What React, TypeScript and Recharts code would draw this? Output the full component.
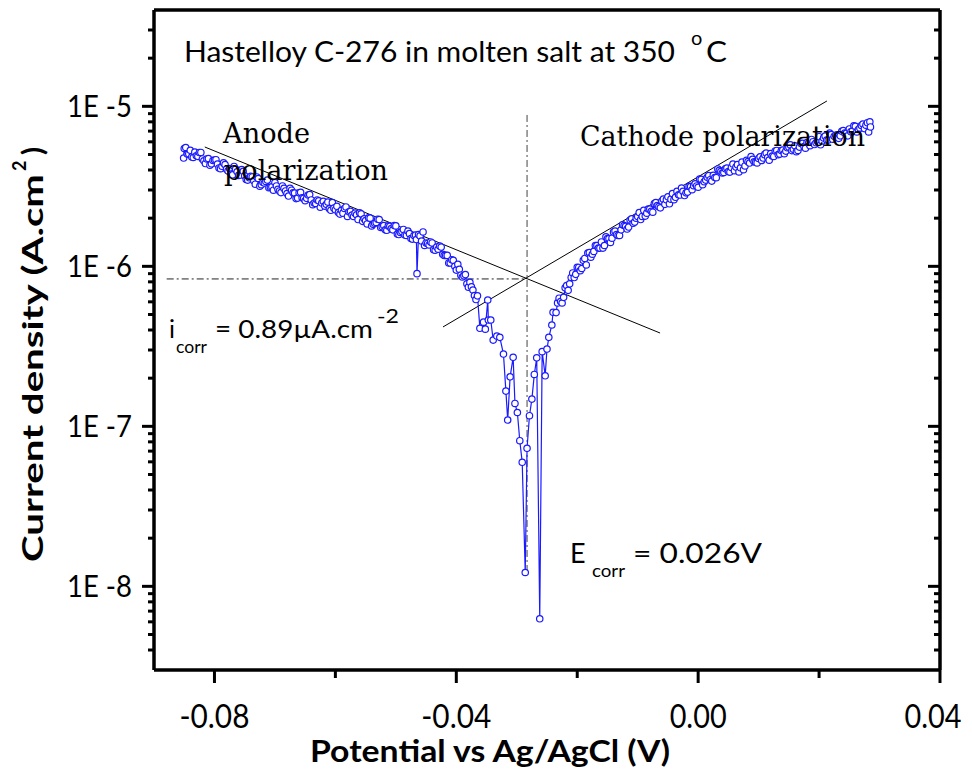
import React from "react"
import { ComposedChart, Line, XAxis, YAxis, ReferenceLine } from "recharts"

// potential vs Ag/AgCl (V) - main readings
const potential = [
  -0.0851, -0.085, -0.0845, -0.084, -0.0835, -0.083, -0.0825, -0.082, -0.0815, -0.081,
  -0.0805, -0.08, -0.0795, -0.079, -0.0785, -0.078, -0.0775, -0.077, -0.0765, -0.076,
  -0.0755, -0.075, -0.0745, -0.074, -0.0735, -0.073, -0.0725, -0.072, -0.0715, -0.071,
  -0.0705, -0.07, -0.0695, -0.069, -0.0685, -0.068, -0.0675, -0.067, -0.0665, -0.066,
  -0.0655, -0.065, -0.0645, -0.064, -0.0635, -0.063, -0.0625, -0.062, -0.0615, -0.061,
  -0.0605, -0.06, -0.0595, -0.059, -0.0585, -0.058, -0.0575, -0.057, -0.0565, -0.056,
  -0.0555, -0.055, -0.0545, -0.054, -0.0535, -0.053, -0.0525, -0.052, -0.0515, -0.051,
  -0.0505, -0.05, -0.0495, -0.049, -0.0485, -0.048, -0.0475, -0.047, -0.0466, -0.0465,
  -0.046, -0.0455, -0.045, -0.0445, -0.044, -0.0435, -0.043, -0.0425, -0.042, -0.0415,
  -0.041, -0.0405, -0.04, -0.0395, -0.039, -0.0385, -0.038, -0.0375, -0.037, -0.0365,
  // around Ecorr
  -0.0361, -0.0355, -0.0352, -0.0348, -0.0347, -0.0343, -0.0339, -0.0333, -0.0328, -0.0322,
  -0.0318, -0.0315, -0.0311, -0.0306, -0.0303, -0.0299, -0.0295, -0.0291, -0.0286, -0.0283,
  -0.0279, -0.0275, -0.0271, -0.0267, -0.0262, -0.0258, -0.0253, -0.025, -0.0247, -0.0242,
  -0.024,
  // cathodic side
  -0.0235, -0.023, -0.0225, -0.022, -0.0215, -0.021, -0.0205, -0.02, -0.0195, -0.019,
  -0.0185, -0.018, -0.0175, -0.017, -0.0165, -0.016, -0.0155, -0.015, -0.0145, -0.014,
  -0.0135, -0.013, -0.0125, -0.012, -0.0115, -0.011, -0.0105, -0.01, -0.0095, -0.009,
  -0.0085, -0.008, -0.0075, -0.007, -0.0065, -0.006, -0.0055, -0.005, -0.0045, -0.004,
  -0.0035, -0.003, -0.0025, -0.002, -0.0015, -0.001, -0.0005, 0, 0.0005, 0.001,
  0.0015, 0.002, 0.0025, 0.003, 0.0035, 0.004, 0.0045, 0.005, 0.0055, 0.006,
  0.0065, 0.007, 0.0075, 0.008, 0.0085, 0.009, 0.0095, 0.01, 0.0105, 0.011,
  0.0115, 0.012, 0.0125, 0.013, 0.0135, 0.014, 0.0145, 0.015, 0.0155, 0.016,
  0.0165, 0.017, 0.0175, 0.018, 0.0185, 0.019, 0.0195, 0.02, 0.0205, 0.021,
  0.0215, 0.022, 0.0225, 0.023, 0.0235, 0.024, 0.0245, 0.025, 0.0255, 0.026,
  0.0265, 0.027, 0.0275, 0.028, 0.0282, 0.0284, 0.0285,
]

// current density, µA/cm²
const current = [
  4.75, 5.45, 5.03, 5.31, 4.79, 4.91, 5.15, 4.69, 4.39, 4.72,
  4.37, 4.62, 4.35, 4.08, 4.43, 4.05, 4.09, 3.73, 4.05, 3.7,
  4.02, 3.68, 3.46, 3.65, 3.43, 3.62, 3.17, 3.35, 3.39, 3.1,
  3.14, 3.34, 3.03, 2.89, 3.07, 2.85, 3.07, 2.88, 2.65, 2.88,
  2.68, 2.57, 2.79, 2.6, 2.49, 2.6, 2.34, 2.55, 2.44, 2.29,
  2.5, 2.26, 2.17, 2.24, 2.3, 2.05, 2.21, 2.05, 2.1, 2.16,
  1.91, 1.93, 2.01, 1.79, 1.86, 1.97, 1.75, 1.8, 1.68, 1.78,
  1.69, 1.79, 1.58, 1.65, 1.57, 1.66, 1.49, 1.56, 1.47, 0.9,
  1.55, 1.64, 1.4, 1.36, 1.4, 1.26, 1.28, 1.32, 1.17, 1.17,
  1.05, 1.09, 0.947, 0.959, 0.858, 0.888, 0.741, 0.745, 0.657, 0.654,
  0.41, 0.448, 0.405, 0.616, 0.462, 0.462, 0.346, 0.367, 0.36, 0.283,
  0.166, 0.1095, 0.204, 0.27, 0.139, 0.122, 0.0813, 0.0596, 0.0122, 0.0729,
  0.1165, 0.148, 0.211, 0.268, 0.00627, 0.293, 0.207, 0.304, 0.36, 0.43,
  0.516,
  0.514, 0.632, 0.59, 0.735, 0.708, 0.852, 0.851, 0.987, 0.94, 1.09,
  1.02, 1.22, 1.19, 1.35, 1.3, 1.42, 1.35, 1.49, 1.41, 1.64,
  1.58, 1.56, 1.82, 1.78, 1.76, 1.98, 1.89, 2.05, 1.96, 2.24,
  2.15, 2.28, 2.18, 2.5, 2.36, 2.56, 2.44, 2.72, 2.63, 2.61,
  2.94, 2.79, 2.94, 2.88, 3.16, 3.01, 3.28, 3.12, 3.5, 3.38,
  3.6, 3.48, 3.71, 3.58, 3.98, 3.83, 4.07, 3.91, 4.15, 3.96,
  4.32, 4.13, 4.02, 4.6, 4.42, 4.66, 4.47, 4.72, 4.59, 4.99,
  4.78, 5.06, 4.86, 5.3, 5.03, 5.33, 5.25, 5.56, 5.29, 5.67,
  5.3, 5.86, 5.61, 5.94, 5.68, 6.01, 5.92, 6.46, 6.07, 6.52,
  6.15, 6.66, 6.5, 6.65, 6.54, 7.06, 6.79, 7.22, 7.0, 7.5,
  7.17, 7.59, 7.26, 7.9, 6.91, 8.01, 7.43,
]

// intermediate readings between the main ones (V)
const potential2 = [
  -0.08475, -0.08425, -0.08375, -0.08325, -0.08275, -0.08225, -0.08175, -0.08125, -0.08075, -0.08025,
  -0.07975, -0.07925, -0.07875, -0.07825, -0.07775, -0.07725, -0.07675, -0.07625, -0.07575, -0.07525,
  -0.07475, -0.07425, -0.07375, -0.07325, -0.07275, -0.07225, -0.07175, -0.07125, -0.07075, -0.07025,
  -0.06975, -0.06925, -0.06875, -0.06825, -0.06775, -0.06725, -0.06675, -0.06625, -0.06575, -0.06525,
  -0.06475, -0.06425, -0.06375, -0.06325, -0.06275, -0.06225, -0.06175, -0.06125, -0.06075, -0.06025,
  -0.05975, -0.05925, -0.05875, -0.05825, -0.05775, -0.05725, -0.05675, -0.05625, -0.05575, -0.05525,
  -0.05475, -0.05425, -0.05375, -0.05325, -0.05275, -0.05225, -0.05175, -0.05125, -0.05075, -0.05025,
  -0.04975, -0.04925, -0.04875, -0.04825, -0.04775, -0.04725, -0.04675, -0.04625, -0.04575, -0.04525,
  -0.04475, -0.04425, -0.04375, -0.04325, -0.04275, -0.04225, -0.04175, -0.04125, -0.04075, -0.04025,
  -0.03975, -0.03925, -0.03875, -0.03825, -0.03775, -0.03725, -0.03675,
  -0.02325, -0.02275, -0.02225, -0.02175, -0.02125, -0.02075, -0.02025, -0.01975, -0.01925, -0.01875,
  -0.01825, -0.01775, -0.01725, -0.01675, -0.01625, -0.01575, -0.01525, -0.01475, -0.01425, -0.01375,
  -0.01325, -0.01275, -0.01225, -0.01175, -0.01125, -0.01075, -0.01025, -0.00975, -0.00925, -0.00875,
  -0.00825, -0.00775, -0.00725, -0.00675, -0.00625, -0.00575, -0.00525, -0.00475, -0.00425, -0.00375,
  -0.00325, -0.00275, -0.00225, -0.00175, -0.00125, -0.00075, -0.00025, 0.00025, 0.00075, 0.00125,
  0.00175, 0.00225, 0.00275, 0.00325, 0.00375, 0.00425, 0.00475, 0.00525, 0.00575, 0.00625,
  0.00675, 0.00725, 0.00775, 0.00825, 0.00875, 0.00925, 0.00975, 0.01025, 0.01075, 0.01125,
  0.01175, 0.01225, 0.01275, 0.01325, 0.01375, 0.01425, 0.01475, 0.01525, 0.01575, 0.01625,
  0.01675, 0.01725, 0.01775, 0.01825, 0.01875, 0.01925, 0.01975, 0.02025, 0.02075, 0.02125,
  0.02175, 0.02225, 0.02275, 0.02325, 0.02375, 0.02425, 0.02475, 0.02525, 0.02575, 0.02625,
  0.02675, 0.02725, 0.02775,
]

// µA/cm²
const current2 = [
  5.53, 5.05, 4.83, 5.17, 4.87, 5.15, 4.57, 4.69, 4.29, 4.59,
  4.64, 4.12, 4.22, 4.32, 3.95, 3.77, 4.21, 3.9, 3.72, 3.93,
  3.49, 3.58, 3.62, 3.26, 3.54, 3.24, 3.32, 3.46, 3.12, 2.99,
  3.18, 2.96, 3.18, 2.96, 2.75, 2.99, 2.87, 2.67, 2.9, 2.66,
  2.66, 2.81, 2.43, 2.47, 2.57, 2.49, 2.38, 2.52, 2.24, 2.31,
  2.37, 2.12, 2.15, 2.35, 2.19, 2.09, 2.15, 1.96, 2.13, 1.98,
  1.84, 2.0, 1.83, 1.88, 1.96, 1.77, 1.69, 1.79, 1.72, 1.8,
  1.59, 1.63, 1.7, 1.56, 1.6, 1.48, 1.57, 1.58, 1.44, 1.35,
  1.39, 1.42, 1.27, 1.32, 1.34, 1.19, 1.17, 1.05, 1.1, 1.0,
  1.03, 0.88, 0.872, 0.777, 0.794, 0.711, 0.62,
  0.591, 0.602, 0.64, 0.759, 0.777, 0.909, 0.891, 0.984, 0.969, 1.12,
  1.21, 1.14, 1.24, 1.35, 1.3, 1.3, 1.53, 1.49, 1.5, 1.66,
  1.56, 1.69, 1.8, 1.71, 1.95, 1.86, 2.0, 2.17, 2.05, 2.06,
  2.28, 2.21, 2.47, 2.4, 2.32, 2.63, 2.61, 2.46, 2.85, 2.7,
  2.8, 3.08, 2.77, 2.91, 3.15, 3.19, 3.18, 3.51, 3.24, 3.46,
  3.69, 3.41, 3.59, 4.06, 3.91, 3.86, 4.11, 3.88, 4.36, 4.17,
  3.89, 4.48, 4.24, 4.51, 4.85, 4.5, 4.43, 4.83, 4.75, 5.1,
  4.61, 4.89, 5.26, 4.99, 5.29, 5.06, 5.51, 5.74, 5.39, 5.21,
  5.56, 5.88, 5.47, 5.87, 6.21, 5.77, 6.02, 5.75, 6.35, 6.16,
  6.81, 6.23, 6.6, 6.31, 6.98, 6.8, 6.54, 6.94, 7.56, 6.92,
  7.32, 7.75, 7.63,
]

const xTicks = [-0.08, -0.06, -0.04, -0.02, 0, 0.02, 0.04]
const xLabelled = [-0.08, -0.04, 0, 0.04]

const yMajor = [0.01, 0.1, 1, 10]
const yMajorLabels = ["1E -8", "1E -7", "1E -6", "1E -5"]
const yMinor = [
  0.004, 0.005, 0.006, 0.007, 0.008, 0.009,
  0.02, 0.03, 0.04, 0.05, 0.06, 0.07, 0.08, 0.09,
  0.2, 0.3, 0.4, 0.5, 0.6, 0.7, 0.8, 0.9,
  2, 3, 4, 5, 6, 7, 8, 9,
  20, 30,
]

// Tafel fits and the Ecorr / icorr guides
const anodeTafel = [{ x: -0.0816, y: 5.57 }, { x: -0.0063, y: 0.383 }]
const cathodeTafel = [{ x: -0.0422, y: 0.418 }, { x: 0.0213, y: 10.8 }]
const iCorrGuide = [{ x: -0.0879, y: 0.834 }, { x: -0.0283, y: 0.834 }]
const eCorrGuide = [{ x: -0.0283, y: 8.83 }, { x: -0.0283, y: 0.0126 }]

const data = [
  ...potential.map((v, k) => ({ v, i: current[k] })),
  ...potential2.map((v, k) => ({ v, i: current2[k] })),
].sort((a, b) => a.v - b.v)

const BLUE = "#1a1aff"
const SANS = "Lato, 'Open Sans', sans-serif"
const FRAME = 3.5

function XTick(props: any) {
  const { x, y, payload } = props
  const major = xLabelled.includes(payload.value)
  const last = payload.value === 0.04
  return (
    <g>
      <line x1={x} y1={y} x2={x} y2={y + (major ? 13 : 8)} stroke="#000" strokeWidth={3} />
      {major && (
        <text
          x={last ? x - 7 : x}
          y={y + 58}
          textAnchor="middle"
          fontFamily={SANS}
          fontSize={32}
          textLength={payload.value < 0 ? 70 : 57}
          lengthAdjust="spacingAndGlyphs"
          fill="#000"
        >
          {payload.value.toFixed(2)}
        </text>
      )}
    </g>
  )
}

function YTickLeft(props: any) {
  const { x, y, payload } = props
  const idx = yMajor.indexOf(payload.value)
  const major = idx >= 0
  return (
    <g>
      <line x1={x - (major ? 12 : 6)} y1={y} x2={x} y2={y} stroke="#000" strokeWidth={3} />
      {major && (
        <text
          x={x - 22}
          y={y + 11}
          textAnchor="end"
          fontFamily={SANS}
          fontSize={30}
          textLength={65}
          lengthAdjust="spacingAndGlyphs"
          fill="#000"
        >
          {yMajorLabels[idx]}
        </text>
      )}
    </g>
  )
}

function YTickRight(props: any) {
  const { x, y, payload } = props
  const major = yMajor.includes(payload.value)
  return <line x1={x - (major ? 12 : 6)} y1={y} x2={x} y2={y} stroke="#000" strokeWidth={3} />
}

export default function App() {
  return (
    <div style={{ position: "absolute", left: 0, top: 0, width: 972, height: 774, background: "#fff" }}>
      <ComposedChart width={972} height={774} data={data} margin={{ top: 10, right: 30, bottom: 44, left: 54 }}>
        <XAxis
          dataKey="v"
          type="number"
          domain={[-0.09, 0.04]}
          ticks={xTicks}
          interval={0}
          allowDataOverflow
          height={60}
          tickSize={0}
          tickMargin={0}
          tickLine={false}
          stroke="#000"
          strokeWidth={FRAME}
          axisLine={{ stroke: "#000", strokeWidth: FRAME }}
          tick={<XTick />}
        />
        <YAxis
          yAxisId="left"
          type="number"
          scale="log"
          domain={[0.003, 40]}
          ticks={[...yMajor, ...yMinor]}
          interval={0}
          allowDataOverflow
          width={100}
          tickSize={0}
          tickMargin={0}
          tickLine={false}
          stroke="#000"
          strokeWidth={FRAME}
          axisLine={{ stroke: "#000", strokeWidth: FRAME }}
          tick={<YTickLeft />}
        />
        <YAxis
          yAxisId="right"
          orientation="right"
          type="number"
          scale="log"
          domain={[0.003, 40]}
          ticks={[...yMajor, ...yMinor]}
          interval={0}
          allowDataOverflow
          width={2}
          tickSize={0}
          tickMargin={0}
          tickLine={false}
          stroke="#000"
          strokeWidth={FRAME}
          axisLine={{ stroke: "#000", strokeWidth: FRAME }}
          tick={<YTickRight />}
        />
        {/* top frame */}
        <ReferenceLine yAxisId="left" y={40} stroke="#000" strokeWidth={FRAME} ifOverflow="visible" />

        <ReferenceLine yAxisId="left" segment={iCorrGuide} stroke="#222" strokeWidth={1} strokeDasharray="7 3 2 3" ifOverflow="visible" />
        <ReferenceLine yAxisId="left" segment={eCorrGuide} stroke="#444" strokeWidth={1} strokeDasharray="7 3 2 3" ifOverflow="visible" />
        <ReferenceLine yAxisId="left" segment={anodeTafel} stroke="#000" strokeWidth={1} ifOverflow="visible" />
        <ReferenceLine yAxisId="left" segment={cathodeTafel} stroke="#000" strokeWidth={1} ifOverflow="visible" />

        <Line
          yAxisId="left"
          type="linear"
          dataKey="i"
          stroke={BLUE}
          strokeWidth={1.2}
          dot={{ r: 3.2, stroke: BLUE, strokeWidth: 1.2, fill: "#fff" }}
          isAnimationActive={false}
        />
      </ComposedChart>

      <svg
        width={972}
        height={774}
        style={{ position: "absolute", left: 0, top: 0, pointerEvents: "none" }}
      >
        {/* title */}
        <text x={184} y={62} fontFamily={SANS} fontSize={28} textLength={491} lengthAdjust="spacingAndGlyphs">
          Hastelloy C-276 in molten salt at 350
        </text>
        <text x={691} y={45} fontFamily={SANS} fontSize={20}>o</text>
        <text x={706} y={62} fontFamily={SANS} fontSize={28} textLength={21} lengthAdjust="spacingAndGlyphs">C</text>

        {/* branch labels */}
        <text x={223} y={143} fontFamily="'DejaVu Serif', serif" fontSize={28} textLength={87} lengthAdjust="spacingAndGlyphs">Anode</text>
        <text x={224} y={180} fontFamily="'DejaVu Serif', serif" fontSize={28} textLength={164} lengthAdjust="spacingAndGlyphs">polarization</text>
        <text x={580} y={146} fontFamily="'DejaVu Serif', serif" fontSize={28} textLength={285} lengthAdjust="spacingAndGlyphs">Cathode polarization</text>

        {/* icorr */}
        <text x={169} y={338} fontFamily={SANS} fontSize={25}>i</text>
        <text x={176} y={353} fontFamily={SANS} fontSize={18} textLength={31} lengthAdjust="spacingAndGlyphs">corr</text>
        <text x={215} y={338} fontFamily={SANS} fontSize={25} textLength={158} lengthAdjust="spacingAndGlyphs">= 0.89µA.cm</text>
        <text x={377} y={323} fontFamily={SANS} fontSize={19} textLength={22} lengthAdjust="spacingAndGlyphs">-2</text>

        {/* Ecorr */}
        <text x={570} y={563} fontFamily={SANS} fontSize={27}>E</text>
        <text x={592} y={577} fontFamily={SANS} fontSize={18} textLength={33} lengthAdjust="spacingAndGlyphs">corr</text>
        <text x={633} y={563} fontFamily={SANS} fontSize={27} textLength={129} lengthAdjust="spacingAndGlyphs">= 0.026V</text>

        {/* axis titles */}
        <text x={310} y={762} fontFamily={SANS} fontWeight={700} fontSize={30} textLength={360} lengthAdjust="spacingAndGlyphs">
          Potential vs Ag/AgCl (V)
        </text>
        <g transform="translate(43,562) rotate(-90)">
          <text x={0} y={0} fontFamily={SANS} fontWeight={700} fontSize={29} textLength={388} lengthAdjust="spacingAndGlyphs">
            Current density (A.cm
          </text>
          <text x={391} y={-17} fontFamily={SANS} fontWeight={700} fontSize={18}>2</text>
          <text x={407} y={0} fontFamily={SANS} fontWeight={700} fontSize={29}>)</text>
        </g>
      </svg>
    </div>
  )
}
